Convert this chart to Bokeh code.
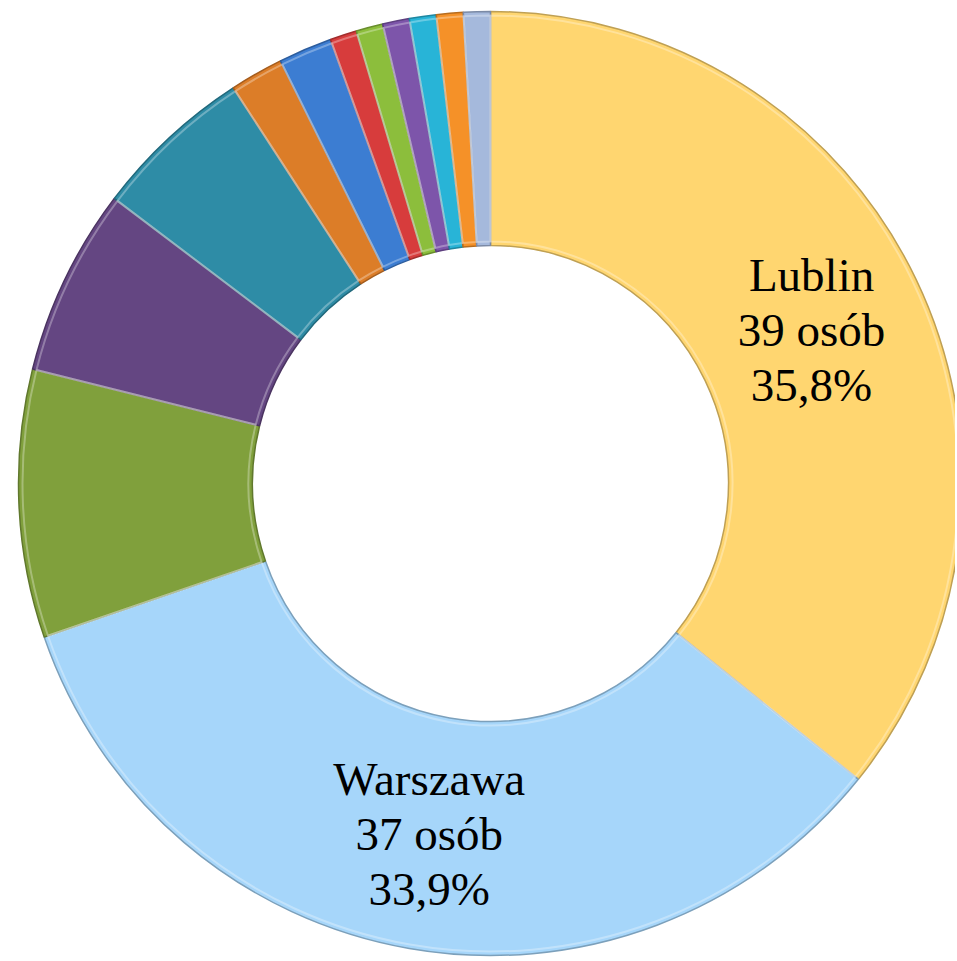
import math
from bokeh.plotting import figure
from bokeh.models import Range1d, ColumnDataSource
from bokeh.core.properties import value
from bokeh.embed import file_html
from bokeh.resources import INLINE

# ---- data ----
categories = ["Lublin", "Warszawa", "Inne 1", "Inne 2", "Inne 3", "Inne 4", "Inne 5",
              "Inne 6", "Inne 7", "Inne 8", "Inne 9", "Inne 10", "Inne 11"]
counts = [39, 37, 10, 7, 6, 2, 2, 1, 1, 1, 1, 1, 1]
colors = ["#FFD670", "#A6D6FA", "#80A03C", "#644682", "#2E8CA6", "#DC7D28", "#3C7DD2",
          "#D73C3C", "#8CBE3C", "#7D55AA", "#28B4D7", "#F59128", "#A5B9DC"]
labels = ["Lublin\n39 osób\n35,8%", "Warszawa\n37 osób\n33,9%"]


def darker(hexc, f=0.75):
    r, g, b = int(hexc[1:3], 16), int(hexc[3:5], 16), int(hexc[5:7], 16)
    return "#%02X%02X%02X" % (int(r * f), int(g * f), int(b * f))


total = sum(counts)
starts, ends, mids = [], [], []
cum = 0
for c in counts:
    f0 = cum / total
    cum += c
    f1 = cum / total
    starts.append(math.pi / 2 - 2 * math.pi * f0)
    ends.append(math.pi / 2 - 2 * math.pi * f1)
    mids.append((f0 + f1) / 2)

W, H = 955, 960
p = figure(width=W, height=H, output_backend="svg", toolbar_location=None,
           x_range=Range1d(0, W), y_range=Range1d(-H, 0), min_border=0)
p.axis.visible = False
p.grid.visible = False
p.outline_line_color = None
p.background_fill_color = "white"

cx, cy = 490, -483
R_out, R_in = 472, 238

src = ColumnDataSource(dict(start=starts, end=ends, color=colors,
                            line=[darker(c) for c in colors], cat=categories))
p.annular_wedge(x=cx, y=cy, inner_radius=R_in, outer_radius=R_out,
                start_angle="start", end_angle="end", direction="clock",
                fill_color="color", line_color="line", line_width=1.5, source=src)
# subtle bevel highlight
p.annular_wedge(x=cx, y=cy, inner_radius=R_in + 4, outer_radius=R_out - 4,
                start_angle="start", end_angle="end", direction="clock",
                fill_color=None, line_color="white", line_alpha=0.3, line_width=2,
                source=src)

lx, ly = [], []
r_lab = 356
for i in range(len(labels)):
    a = 2 * math.pi * mids[i]
    lx.append(cx + r_lab * math.sin(a))
    ly.append(cy + r_lab * math.cos(a))

p.text(x=lx, y=ly, text=labels, text_align="center", text_baseline="middle",
       text_font=value("Liberation Serif"), text_font_size="47px",
       text_line_height=1.06, text_color="black")

open("out.html", "w").write(file_html(p, INLINE))
